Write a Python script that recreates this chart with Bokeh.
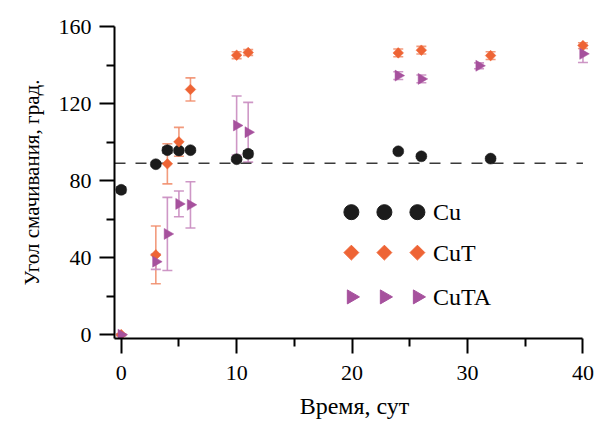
import math
from bokeh.plotting import figure
from bokeh.models import Range1d, ColumnDataSource, Whisker, TeeHead, FixedTicker
from bokeh.core.properties import value
from bokeh.embed import file_html
from bokeh.resources import INLINE

# ---- data ----
cu_x = [0, 3, 4, 5, 6, 10, 11, 24, 26, 32]
cu_y = [75.2, 88.5, 95.8, 95.6, 95.8, 91.1, 93.9, 95.2, 92.6, 91.4]
cu_err = [1.5, 1.0, 1.5, 1.0, 1.0, 1.0, 1.5, 1.0, 1.0, 1.0]

cut_x = [0, 3, 4, 5, 6, 10, 11, 24, 26, 32, 40]
cut_y = [0.0, 41.4, 88.7, 100.1, 127.3, 145.1, 146.5, 146.3, 147.7, 144.9, 150.1]
cut_err = [0.5, 15.0, 10.4, 7.5, 6.0, 1.8, 1.5, 2.0, 2.0, 2.0, 1.5]

cuta_x = [0, 3, 4, 5, 6, 10, 11, 24, 26, 31, 40]
cuta_y = [0.0, 37.9, 52.3, 67.9, 67.4, 108.6, 105.1, 134.5, 132.8, 139.6, 145.8]
cuta_err = [0.5, 4.0, 19.0, 6.7, 12.0, 15.3, 15.5, 2.0, 2.0, 1.5, 4.5]

ref_level = 89
ref_x = [-0.58, 40]

series_names = ["Cu", "CuT", "CuTA"]
x_ticks = [0, 10, 20, 30, 40]
y_ticks = [0, 40, 80, 120, 160]

# legend layout (data-space positions of the legend block)
leg_mark_x = [19.94, 22.8, 25.66]
leg_text_x = 27.0
leg_row_y = [63.6, 42.6, 19.6]

# ---- styles ----
C_CU = "#1c1c1c"
C_CUT = "#ee6435"
C_CUT_BAR = "#f08a66"
C_CUTA = "#a6519d"
C_CUTA_BAR = "#c98cc0"
FONT = "Liberation Serif"

p = figure(width=595, height=421, output_backend="svg", toolbar_location=None,
           x_range=Range1d(-0.58, 41), y_range=Range1d(-2, 160),
           min_border_left=114, min_border_right=1, min_border_top=26, min_border_bottom=83)
p.outline_line_color = None
p.xgrid.visible = False
p.ygrid.visible = False
p.background_fill_color = "white"
p.border_fill_color = "white"

# reference dashed line
p.line(x=ref_x, y=[ref_level, ref_level], line_color="#3a3a3a", line_width=1.6, line_dash="11 10")

def add_series(xs, ys, errs, color, bar_color, marker, size, angle, bar_alpha):
    src = ColumnDataSource(dict(x=xs, y=ys,
                                lo=[a - b for a, b in zip(ys, errs)],
                                hi=[a + b for a, b in zip(ys, errs)]))
    w = Whisker(source=src, base="x", lower="lo", upper="hi",
                line_color=bar_color, line_width=1.6, line_alpha=bar_alpha,
                upper_head=TeeHead(size=10, line_color=bar_color, line_width=1.6, line_alpha=bar_alpha),
                lower_head=TeeHead(size=10, line_color=bar_color, line_width=1.6, line_alpha=bar_alpha))
    p.add_layout(w)
    p.scatter(x="x", y="y", source=src, marker=marker, size=size, angle=angle,
              fill_color=color, line_color=color, line_width=0.5)

add_series(cu_x, cu_y, cu_err, C_CU, C_CU, "circle", 11, 0, 1.0)
add_series(cut_x, cut_y, cut_err, C_CUT, C_CUT_BAR, "square", 7.5, math.pi / 4, 0.85)
add_series(cuta_x, cuta_y, cuta_err, C_CUTA, C_CUTA_BAR, "triangle", 11, -math.pi / 2, 0.9)

# legend block
leg_markers = ["circle", "square", "triangle"]
leg_colors = [C_CU, C_CUT, C_CUTA]
leg_sizes = [15, 10.5, 14]
leg_angles = [0, math.pi / 4, -math.pi / 2]
for name, mk, col, sz, ang, ry in zip(series_names, leg_markers, leg_colors, leg_sizes, leg_angles, leg_row_y):
    p.scatter(x=leg_mark_x, y=[ry] * len(leg_mark_x), marker=mk, size=sz, angle=ang,
              fill_color=col, line_color=col)
    p.text(x=[leg_text_x], y=[ry], text=[name], text_font=value(FONT),
           text_font_size="24px", text_baseline="middle", text_align="left", text_color="black")

# axes
for ax in (p.xaxis[0], p.yaxis[0]):
    ax.axis_line_width = 2
    ax.axis_line_color = "black"
    ax.major_tick_line_width = 2
    ax.minor_tick_line_width = 2
    ax.major_tick_line_color = "black"
    ax.minor_tick_line_color = "black"
    ax.major_tick_in = 0
    ax.minor_tick_in = 0
    ax.major_tick_out = 15
    ax.minor_tick_out = 8
    ax.major_label_text_font = FONT
    ax.major_label_text_font_size = "22px"
    ax.major_label_text_color = "black"
    ax.axis_label_text_font = FONT
    ax.axis_label_text_font_style = "normal"
    ax.axis_label_text_color = "black"

p.xaxis[0].axis_label_text_font_size = "24px"
p.yaxis[0].axis_label_text_font_size = "21px"
p.xaxis[0].ticker = FixedTicker(ticks=x_ticks, minor_ticks=[5, 15, 25, 35])
p.yaxis[0].ticker = FixedTicker(ticks=y_ticks, minor_ticks=[20, 60, 100, 140])
p.xaxis[0].bounds = (-0.58, 40)
p.xaxis.axis_label = "Время, сут"
p.yaxis.axis_label = "Угол смачивания, град."
p.xaxis[0].major_label_standoff = 12
p.yaxis[0].major_label_standoff = 8
p.xaxis[0].axis_label_standoff = 10
p.yaxis[0].axis_label_standoff = 12

open("out.html", "w").write(file_html(p, INLINE))
